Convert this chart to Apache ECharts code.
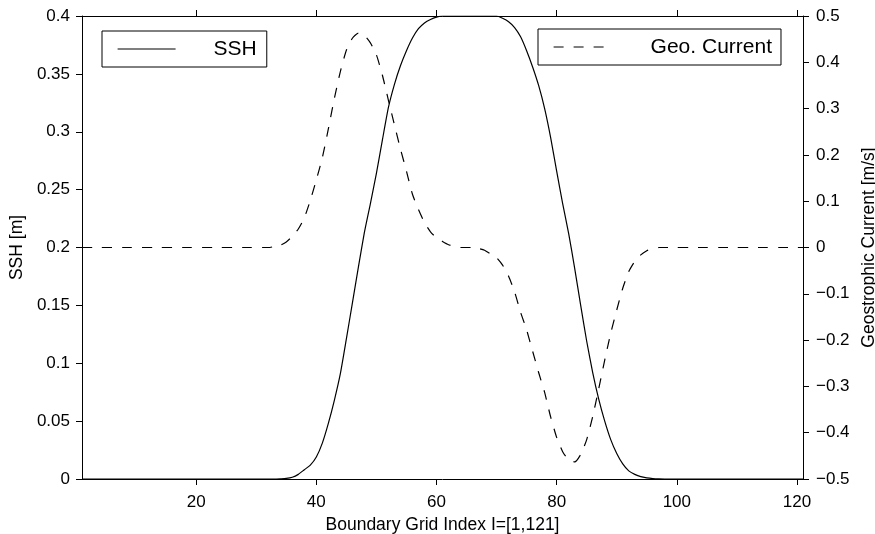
<!DOCTYPE html>
<html>
<head>
<meta charset="utf-8">
<script src="https://cdn.jsdelivr.net/npm/echarts@6/dist/echarts.min.js"></script>
<style>html,body{margin:0;padding:0;background:#fff;}#c{width:875px;height:534px;}</style>
</head>
<body>
<div id="c"></div>
<script>
// Boundary grid index I = 1..121
const gridIndex = Array.from({length: 121}, (_, k) => k + 1);

// SSH [m] at each grid index
const sshValues = [
  0,0,0,0,0,0,0,0,0,0, 0,0,0,0,0,0,0,0,0,0, 0,0,0,0,0,0,0,0,0,0, 0,0,0,
  0.0002,0.0005,0.0015,0.004,0.008,0.012,0.019,0.031,0.048,0.068,0.091,0.121,0.152,0.183,0.213,0.238,0.264,0.293,0.321,0.341,0.357,0.370,0.381,0.389,0.394,0.397,0.399,
  0.4,0.4,0.4,0.4,0.4,0.4,0.4,0.4,0.4,
  0.400,0.398,0.395,0.390,0.382,0.370,0.356,0.340,0.320,0.295,0.266,0.238,0.212,0.182,0.150,0.119,0.092,0.069,0.050,0.034,0.022,0.013,0.007,0.004,0.002,0.001,0.0004,0.0001,
  0,0,0,0,0,0,0,0,0,0, 0,0,0,0,0,0,0,0,0,0, 0,0,0,0
];

// Geostrophic current [m/s] at each grid index
const currentValues = [
  0,0,0,0,0,0,0,0,0,0, 0,0,0,0,0,0,0,0,0,0, 0,0,0,0,0,0,0,0,0,0, 0,0,
  0.002,0.005,0.012,0.024,0.040,0.064,0.102,0.146,0.194,0.256,0.322,0.380,0.426,0.452,0.463,0.458,0.442,0.416,0.372,0.318,0.265,0.213,0.165,0.115,0.082,0.054,0.034,0.021,0.013,0.006,0.002,
  0,0,0,
  -0.002,-0.006,-0.014,-0.022,-0.038,-0.062,-0.096,-0.140,-0.178,-0.224,-0.270,-0.313,-0.366,-0.410,-0.441,-0.459,-0.463,-0.447,-0.415,-0.365,-0.305,-0.243,-0.185,-0.135,-0.088,-0.052,-0.030,-0.016,-0.007,-0.002,
  0,0,0,0,0,0,0,0,0,0, 0,0,0,0,0,0,0,0,0,0, 0,0,0,0,0
];

const xTickValues = [20, 40, 60, 80, 100, 120];
const seriesNames = ['SSH', 'Geo. Current'];

const FONT = '"Liberation Sans", Arial, Helvetica, sans-serif';
const chart = echarts.init(document.getElementById('c'));

const axisCommon = {
  axisLine: {show: true, onZero: false, lineStyle: {color: '#000', width: 1}},
  splitLine: {show: false}
};

const legendCommon = {
  orient: 'horizontal', selectedMode: false, borderColor: '#000', borderWidth: 1, borderRadius: 0,
  itemHeight: 14,
  itemStyle: {color: 'transparent', borderWidth: 0, opacity: 0},
  lineStyle: {color: '#000', width: 1.2}
};

chart.setOption({
  animation: false,
  backgroundColor: '#fff',
  textStyle: {fontFamily: FONT, color: '#000'},
  grid: {left: 82, right: 72, top: 16, bottom: 55, containLabel: false, outerBoundsMode: 'none'},
  legend: [
    Object.assign({}, legendCommon, {
      data: [seriesNames[0]], left: 102, top: 31,
      padding: [7, 10, 7, 15], itemWidth: 58,
      textStyle: {fontFamily: FONT, fontSize: 21, color: '#000', padding: [0, 0, 0, 33], lineHeight: 22}
    }),
    Object.assign({}, legendCommon, {
      data: [seriesNames[1]], left: 538, top: 29,
      padding: [7, 9, 7, 15], itemWidth: 54,
      textStyle: {fontFamily: FONT, fontSize: 21, color: '#000', padding: [0, 0, 0, 38], lineHeight: 22}
    })
  ],
  xAxis: [
    Object.assign({}, axisCommon, {
      type: 'value', position: 'bottom', min: 1, max: 121,
      axisTick: {show: true, length: 6, inside: false, customValues: xTickValues, lineStyle: {color: '#000'}},
      axisLabel: {show: true, customValues: xTickValues, fontSize: 17, color: '#000', fontFamily: FONT, margin: 15},
      name: 'Boundary Grid Index I=[1,121]', nameLocation: 'middle', nameGap: 34,
      nameTextStyle: {fontSize: 17.5, color: '#000', fontFamily: FONT}
    }),
    Object.assign({}, axisCommon, {
      type: 'value', position: 'top', min: 1, max: 121,
      axisTick: {show: true, length: 6, inside: false, customValues: xTickValues, lineStyle: {color: '#000'}},
      axisLabel: {show: false}
    })
  ],
  yAxis: [
    Object.assign({}, axisCommon, {
      type: 'value', position: 'left', min: 0, max: 0.4, interval: 0.05,
      axisTick: {show: true, length: 6, inside: false, lineStyle: {color: '#000'}},
      axisLabel: {fontSize: 17, color: '#000', fontFamily: FONT, margin: 12},
      name: 'SSH [m]', nameLocation: 'middle', nameGap: 52, nameRotate: 90,
      nameTextStyle: {fontSize: 17.5, color: '#000', fontFamily: FONT}
    }),
    Object.assign({}, axisCommon, {
      type: 'value', position: 'right', min: -0.5, max: 0.5, interval: 0.1,
      axisTick: {show: true, length: 6, inside: false, lineStyle: {color: '#000'}},
      axisLabel: {fontSize: 17, color: '#000', fontFamily: FONT, margin: 13,
        formatter: v => { const r = Math.round(v * 10) / 10; return r === 0 ? '0' : String(r).replace('-', '\u2212'); }},
      name: 'Geostrophic Current [m/s]', nameLocation: 'middle', nameGap: 56, nameRotate: 90,
      nameTextStyle: {fontSize: 17.5, color: '#000', fontFamily: FONT}
    })
  ],
  series: [
    {
      name: seriesNames[0], type: 'line', xAxisIndex: 0, yAxisIndex: 0,
      data: gridIndex.map((x, k) => [x, sshValues[k]]),
      symbol: 'none', showSymbol: false, smooth: 0.2,
      lineStyle: {color: '#000', width: 1.2, type: 'solid'},
      itemStyle: {color: '#000'}
    },
    {
      name: seriesNames[1], type: 'line', xAxisIndex: 0, yAxisIndex: 1,
      data: gridIndex.map((x, k) => [x, currentValues[k]]),
      symbol: 'none', showSymbol: false, smooth: 0.2,
      lineStyle: {color: '#000', width: 1.2, type: [10, 10]},
      itemStyle: {color: '#000'}
    }
  ]
});
</script>
</body>
</html>
